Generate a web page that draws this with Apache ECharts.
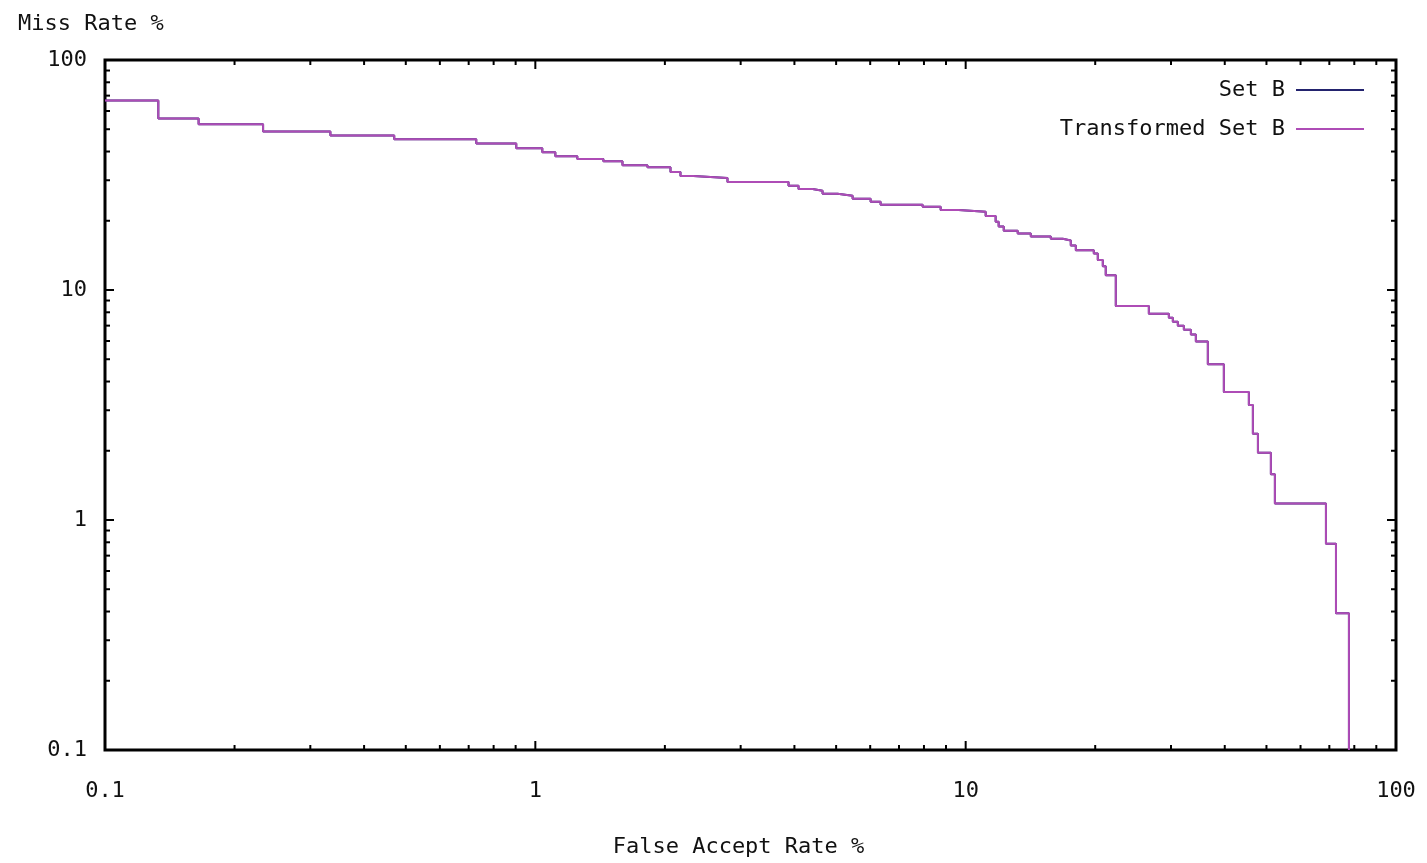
<!DOCTYPE html>
<html>
<head>
<meta charset="utf-8">
<title>Miss Rate vs False Accept Rate</title>
<script src="https://cdn.jsdelivr.net/npm/echarts@6/dist/echarts.min.js"></script>
<style>
    html, body { margin: 0; padding: 0; background: #fff; overflow: hidden; }
    #chart { width: 1427px; height: 863px; }
</style>
</head>
<body>
<div id="chart"></div>
<script>
// step points (x = False Accept Rate %, y = Miss Rate %)
var falseAccept = [
    0.1, 0.133, 0.165, 0.233, 0.334, 0.470, 0.729, 0.903, 1.038, 1.113,
    1.252, 1.439, 1.594, 1.822, 2.061, 2.174, 2.330, 2.796, 3.876, 4.089,
    4.408, 4.650, 5.039, 5.461, 6.013, 6.343, 7.943, 8.747, 9.632, 11.13,
    11.74, 11.93, 12.26, 13.21, 14.17, 15.77, 16.81, 17.55, 18.03, 19.85,
    20.28, 20.83, 21.16, 22.33, 26.65, 29.66, 30.30, 31.12, 32.14, 33.37,
    34.27, 36.54, 39.81, 45.51, 46.50, 47.77, 51.20, 52.31, 68.74, 72.53,
    77.74
];
var missRate = [
    66.6, 55.7, 52.5, 48.9, 47.0, 45.2, 43.4, 41.3, 39.7, 38.2,
    37.1, 36.3, 34.9, 34.2, 32.6, 31.3, 30.7, 29.5, 28.4, 27.5,
    27.0, 26.2, 25.7, 24.9, 24.2, 23.5, 23.0, 22.3, 21.9, 21.0,
    19.8, 18.9, 18.1, 17.6, 17.1, 16.7, 16.4, 15.6, 14.9, 14.4,
    13.5, 12.7, 11.6, 8.53, 7.88, 7.57, 7.28, 7.00, 6.72, 6.40,
    5.97, 4.75, 3.60, 3.16, 2.37, 1.96, 1.58, 1.18, 0.788, 0.393,
    0.1
];

var seriesNames = ['Set B', 'Transformed Set B'];
var seriesColors = ['#23236e', '#ae4cb6'];

// axis range and tick positions
var axisMin = 0.1;
var axisMax = 100;
var majorTicks = [0.1, 1, 10, 100];
var minorTicks = [
    0.2, 0.3, 0.4, 0.5, 0.6, 0.7, 0.8, 0.9,
    2, 3, 4, 5, 6, 7, 8, 9,
    20, 30, 40, 50, 60, 70, 80, 90
];

var FONT = 'DejaVu Sans Mono';
var FONT_SIZE = 22;

function pairs(xs, ys) {
    return xs.map(function (x, i) { return [x, ys[i]]; });
}

// ticks on all four sides, drawn through the axes' own scales
var tickData = [];
majorTicks.forEach(function (v) { tickData.push([v, v, 9]); });
minorTicks.forEach(function (v) { tickData.push([v, v, 5]); });

function renderTicks(params, api) {
    var v = api.value(0);
    var len = api.value(2);
    var bottom = api.coord([v, axisMin]);
    var top = api.coord([v, axisMax]);
    var left = api.coord([axisMin, v]);
    var right = api.coord([axisMax, v]);
    var style = { stroke: '#000', lineWidth: 2 };
    return {
        type: 'group',
        children: [
            { type: 'line', shape: { x1: bottom[0], y1: bottom[1], x2: bottom[0], y2: bottom[1] - len }, style: style },
            { type: 'line', shape: { x1: top[0], y1: top[1], x2: top[0], y2: top[1] + len }, style: style },
            { type: 'line', shape: { x1: left[0], y1: left[1], x2: left[0] + len, y2: left[1] }, style: style },
            { type: 'line', shape: { x1: right[0], y1: right[1], x2: right[0] - len, y2: right[1] }, style: style }
        ]
    };
}

var myChart = echarts.init(document.getElementById('chart'), null, { width: 1427, height: 863 });
var option = {
    backgroundColor: '#fff',
    animation: false,
    textStyle: { fontFamily: FONT },
    title: {
        text: 'Miss Rate %',
        left: 13,
        top: 8,
        textStyle: { fontFamily: FONT, fontSize: FONT_SIZE, fontWeight: 'normal', color: '#111' }
    },
    legend: {
        orient: 'vertical',
        right: 58,
        top: 74,
        align: 'right',
        itemGap: 17,
        itemWidth: 68,
        itemHeight: 2,
        icon: 'rect',
        data: seriesNames,
        textStyle: { fontFamily: FONT, fontSize: FONT_SIZE, color: '#111', padding: [0, 6, 0, 0] }
    },
    grid: {
        left: 105,
        width: 1291,
        top: 60,
        height: 716,
        show: true,
        borderColor: '#000',
        borderWidth: 3,
        backgroundColor: '#fff'
    },
    xAxis: {
        type: 'log',
        logBase: 10,
        min: axisMin,
        max: axisMax,
        name: 'False Accept Rate %',
        nameLocation: 'middle',
        nameGap: 86,
        nameTextStyle: { fontFamily: FONT, fontSize: FONT_SIZE, color: '#111', padding: [0, 24, 0, 0] },
        axisLine: { show: false },
        axisTick: { show: false },
        splitLine: { show: false },
        axisLabel: { fontFamily: FONT, fontSize: FONT_SIZE, color: '#111', margin: 30 }
    },
    yAxis: {
        type: 'log',
        logBase: 10,
        min: axisMin,
        max: axisMax,
        axisLine: { show: false },
        axisTick: { show: false },
        splitLine: { show: false },
        axisLabel: { fontFamily: FONT, fontSize: FONT_SIZE, color: '#111', margin: 18 }
    },
    series: [
        {
            name: seriesNames[0],
            type: 'line',
            step: 'end',
            showSymbol: false,
            color: seriesColors[0],
            lineStyle: { width: 2 },
            data: pairs(falseAccept, missRate)
        },
        {
            name: seriesNames[1],
            type: 'line',
            step: 'end',
            showSymbol: false,
            color: seriesColors[1],
            lineStyle: { width: 2 },
            data: pairs(falseAccept, missRate)
        },
        {
            type: 'custom',
            silent: true,
            renderItem: renderTicks,
            data: tickData,
            z: 5
        }
    ]
};
myChart.setOption(option);
</script>
</body>
</html>
